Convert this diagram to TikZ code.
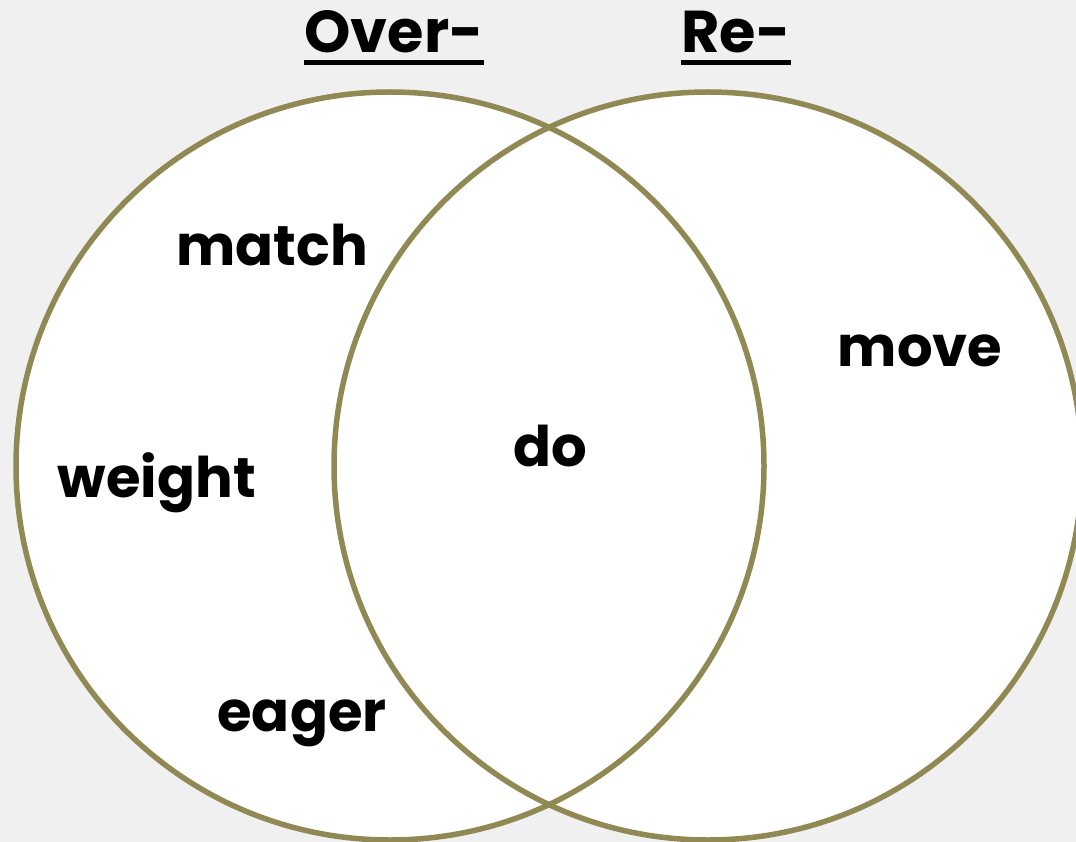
\documentclass[tikz,border=0pt]{standalone}
\usepackage{fontspec}
\setmainfont{Poppins}
\usepackage{tikz}
\usetikzlibrary{positioning}
\definecolor{pagebg}{RGB}{240,240,240}
\definecolor{ringline}{RGB}{145,137,84}

\begin{document}
\begin{tikzpicture}[
  x=1pt, y=-1pt,
  ring/.style={draw=ringline, line width=5.5pt},
  word/.style={inner sep=0pt, anchor=base, font=\fontsize{56}{56}\selectfont\bfseries},
  head/.style={word, font=\fontsize{59}{59}\selectfont\bfseries},
  ul/.style={line width=5pt}]
% page and bounding box
\fill[pagebg] (0,0) rectangle (1076,842);
\useasboundingbox (0,0) rectangle (1076,842);
% the two sets
\fill[white] (390,466) circle[radius=374];
\fill[white] (708,466) circle[radius=374];
\draw[ring] (390,466) circle[radius=374];
\draw[ring] (708,466) circle[radius=374];
% headings
\node[head] (over) at (394,53) {Over-};
\node[head] (re) at (736,53) {Re-};
\draw[ul] ([yshift=-9.5pt]over.base west) -- ([yshift=-9.5pt]over.base east);
\draw[ul] ([yshift=-9.5pt]re.base west) -- ([yshift=-9.5pt]re.base east);
% words
\node[word] (match) at (272,266) {match};
\node[word] (weight) at (157,497) {weight};
\node[word] (eager) at (302,731) {eager};
\node[word] (do) at (550,466) {do};
\node[word] (move) at (920,366) {move};
\end{tikzpicture}
\end{document}
